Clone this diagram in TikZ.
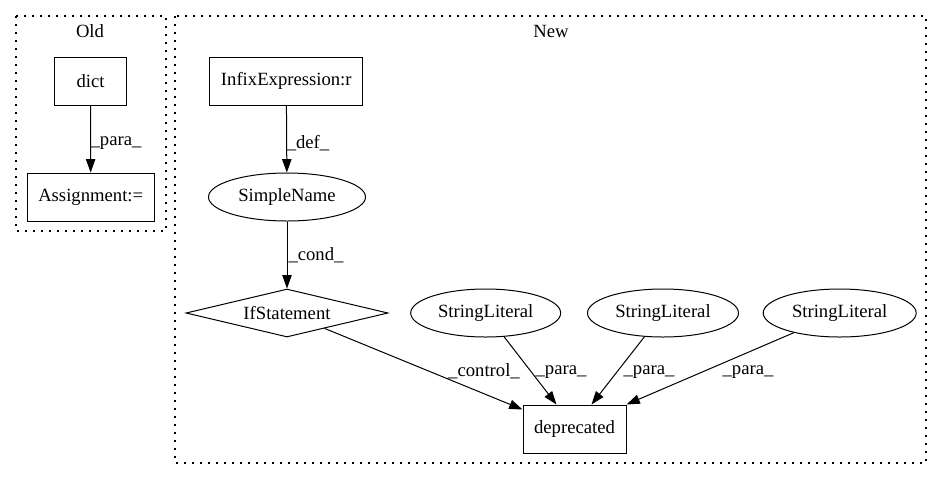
\documentclass[tikz,border=0pt]{standalone}
\usepackage{fontspec}
\setmainfont{Liberation Serif}
\usetikzlibrary{shapes.geometric,arrows.meta,calc}
\begin{document}
\begin{tikzpicture}[x=0.75pt,y=-0.75pt,
  every node/.style={font=\fontsize{14}{16}\selectfont, inner sep=0pt},
  box/.style={draw, line width=0.75pt, rectangle, minimum height=36pt},
  ell/.style={draw, line width=0.75pt, ellipse, minimum height=36pt},
  dia/.style={draw, line width=0.75pt, diamond, aspect=4.2, minimum height=36pt, minimum width=151.5pt},
  cluster/.style={draw, line width=1pt, dash pattern=on 1.2pt off 4.8pt},
  edge/.style={draw, line width=0.75pt, -{Triangle[length=10pt,width=7pt]}},
  lbl/.style={font=\fontsize{14}{16}\selectfont}
]
\useasboundingbox (0,0) rectangle (943,480);
% clusters
\draw[cluster] (16,16) rectangle (166,231);
\draw[cluster] (175,16) rectangle (926,463);
\node (oldlbl) at (90,31) {Old};
\node (newlbl) at (551,31) {New};
% nodes
\node[box, minimum width=54pt] (dict) at (90.5,81.3) {dict};
\node[box, minimum width=95.25pt] (assign) at (90.7,197) {Assignment:=};
\node[box, minimum width=114.5pt] (infix) at (286.3,81.3) {InfixExpression:r};
\node[ell, minimum width=117.75pt] (simple) at (287,197) {SimpleName};
\node[dia] (ifst) at (287,313) {IfStatement};
\node[ell, minimum width=112.5pt] (sl1) at (485.7,313) {StringLiteral};
\node[ell, minimum width=113.25pt] (sl2) at (663,313) {StringLiteral};
\node[ell, minimum width=114.75pt] (sl3) at (839.7,313) {StringLiteral};
\node[box, minimum width=77.25pt] (dep) at (574.5,429) {deprecated};
% target points on deprecated
\coordinate (t0) at ($(dep.north west)+(0,5)$);
\coordinate (t1) at ($(dep.north west)+(34,0)$);
\coordinate (t2) at ($(dep.north west)+(69,0)$);
\coordinate (t3) at (dep.north east);
% edges
\draw[edge] (dict) -- (assign);
\draw[edge] (infix) -- (simple);
\draw[edge] (simple) -- (ifst);
\draw[edge] (ifst) -- (t0);
\draw[edge] (sl1) -- (t1);
\draw[edge] (sl2) -- (t2);
\draw[edge] (sl3) -- (t3);
% edge labels
\node[lbl] (l1) at (116,143) {\_para\_};
\node[lbl] (l2) at (308,143) {\_def\_};
\node[lbl] (l3) at (316,255) {\_cond\_};
\node[lbl] (l4) at (484,371) {\_control\_};
\node[lbl] (l5) at (561,372) {\_para\_};
\node[lbl] (l6) at (649,372) {\_para\_};
\node[lbl] (l7) at (748,372) {\_para\_};
\end{tikzpicture}
\end{document}
